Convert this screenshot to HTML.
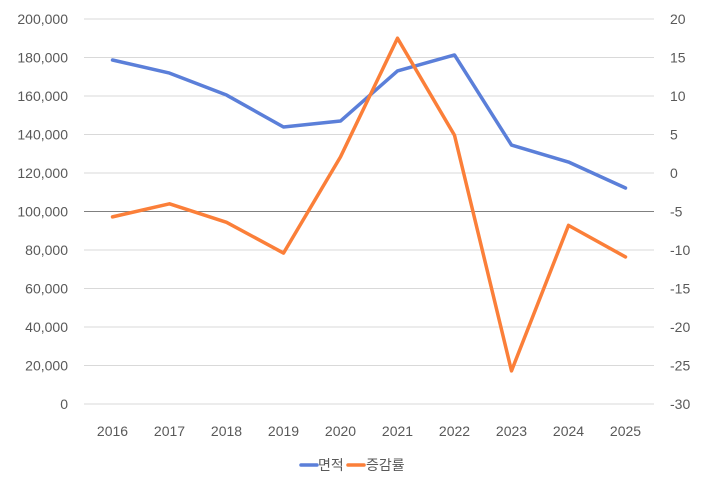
<!DOCTYPE html>
<html><head><meta charset="utf-8"><style>
body{margin:0;background:#fff;width:704px;height:489px;overflow:hidden}
text{font-family:"Liberation Sans","Noto Sans CJK KR",sans-serif;font-size:14px;fill:#595959}
</style></head><body>
<svg id="c" width="704" height="489"></svg>
<script>
const categories=["2016","2017","2018","2019","2020","2021","2022","2023","2024","2025"];
const areaValues=[178700,171900,160500,143900,147000,173000,181300,134500,125700,112200];
const rateValues=[-5.7,-4.0,-6.4,-10.4,2.1,17.5,4.9,-25.7,-6.8,-10.9];
const leftTicks=[0,20000,40000,60000,80000,100000,120000,140000,160000,180000,200000];
const rightTicks=[-30,-25,-20,-15,-10,-5,0,5,10,15,20];
const NS="http://www.w3.org/2000/svg";
const svg=document.getElementById('c');
const X0=84,X1=654,Y0=404,Y1=19;
const bw=(X1-X0)/categories.length;
const x=i=>X0+bw*(i+0.5);
const yL=v=>Y0-(v/200000)*(Y0-Y1);
const yR=v=>Y0-((v+30)/50)*(Y0-Y1);
function mk(t,a){const e=document.createElementNS(NS,t);for(const k in a)e.setAttribute(k,a[k]);svg.appendChild(e);return e;}
leftTicks.forEach(v=>{
 const g=mk('line',{x1:X0,x2:X1,y1:yL(v),y2:yL(v),stroke:v===100000?'#808080':'#d9d9d9','stroke-width':1});
 
 
 const t=mk('text',{x:68,y:yL(v)+5,'text-anchor':'end'});t.textContent=v.toLocaleString('en-US');
 
 
});
rightTicks.forEach(v=>{
 const t=mk('text',{x:670,y:yR(v)+5,'text-anchor':'start'});t.textContent=v;
 
 
});
categories.forEach((c,i)=>{
 const t=mk('text',{x:x(i),y:436,'text-anchor':'middle'});t.textContent=c;
 
 
});
const p1=mk('polyline',{points:areaValues.map((v,i)=>x(i)+','+yL(v)).join(' '),fill:'none',stroke:'#5b7fd9','stroke-width':3.5,'stroke-linejoin':'round','stroke-linecap':'round'});


const p2=mk('polyline',{points:rateValues.map((v,i)=>x(i)+','+yR(v)).join(' '),fill:'none',stroke:'#fb7f39','stroke-width':3.5,'stroke-linejoin':'round','stroke-linecap':'round'});


const l1=mk('line',{x1:301,x2:317,y1:465,y2:465,stroke:'#5b7fd9','stroke-width':3.5,'stroke-linecap':'round'});


const t1=mk('text',{x:318,y:470});t1.textContent='면적';


const l2=mk('line',{x1:348,x2:364,y1:465,y2:465,stroke:'#fb7f39','stroke-width':3.5,'stroke-linecap':'round'});


const t2=mk('text',{x:366,y:470});t2.textContent='증감률';


</script>
</body></html>
